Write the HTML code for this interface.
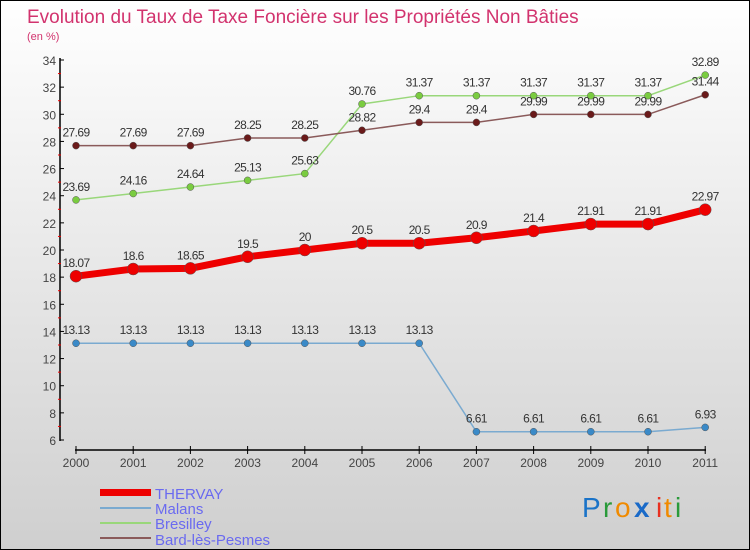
<!DOCTYPE html>
<html><head><meta charset="utf-8"><style>
body{margin:0;}
#c{width:750px;height:550px;position:relative;overflow:hidden;font-family:"Liberation Sans",sans-serif;}
</style></head><body>
<div id="c">
<svg id="s" width="750" height="550" xmlns="http://www.w3.org/2000/svg">
<defs><linearGradient id="bg" x1="0" y1="0" x2="0" y2="1"><stop offset="0" stop-color="#ffffff"/><stop offset="1" stop-color="#cfcfcf"/></linearGradient></defs>
<rect x="0.5" y="0.5" width="749" height="549" fill="url(#bg)" stroke="#000"/>
<text x="27" y="23" font-size="19" fill="#d2336e">Evolution du Taux de Taxe Foncière sur les Propriétés Non Bâties</text>
<text x="27" y="40" font-size="11" fill="#d2336e">(en %)</text>
<g id="axes"></g><g id="series"></g>
<g>
<rect x="100" y="489" width="51" height="7" fill="#ee0000"/>
<rect x="100" y="507" width="51" height="2" fill="#7aaad0"/>
<rect x="100" y="522" width="51" height="2" fill="#99d77a"/>
<rect x="100" y="537" width="51" height="2" fill="#8a5a5a"/>
<text x="155" y="499" font-size="15" fill="#6a6af0">THERVAY</text>
<text x="155" y="514" font-size="15" fill="#6a6af0">Malans</text>
<text x="155" y="529" font-size="15" fill="#6a6af0">Bresilley</text>
<text x="155" y="545" font-size="15" fill="#6a6af0">Bard-lès-Pesmes</text>
</g>
<g font-size="28">
<text x="582" y="517" fill="#1a73c8">P</text><text x="603" y="517" fill="#2a9a3a">r</text><text x="615" y="517" fill="#f08a00">o</text><text x="634" y="517" fill="#1a6ac8" font-weight="bold">x</text><text x="656" y="517" fill="#e83020">i</text><text x="664" y="517" fill="#f08a00">t</text><text x="675" y="517" fill="#2a9a3a">i</text>
</g>
</svg></div>
<script>
const years=[2000,2001,2002,2003,2004,2005,2006,2007,2008,2009,2010,2011];
const thervay=[18.07,18.6,18.65,19.5,20,20.5,20.5,20.9,21.4,21.91,21.91,22.97];
const malans=[13.13,13.13,13.13,13.13,13.13,13.13,13.13,6.61,6.61,6.61,6.61,6.93];
const bresilley=[23.69,24.16,24.64,25.13,25.63,30.76,31.37,31.37,31.37,31.37,31.37,32.89];
const bard=[27.69,27.69,27.69,28.25,28.25,28.82,29.4,29.4,29.99,29.99,29.99,31.44];
const yTicks=[6,8,10,12,14,16,18,20,22,24,26,28,30,32,34];
const NS="http://www.w3.org/2000/svg";
const X=i=>76+i*57.2;
const Y=v=>440-(v-6)*380/28;
function mk(t,a,p){const e=document.createElementNS(NS,t);for(const k in a)e.setAttribute(k,a[k]);p.appendChild(e);return e;}
const ax=document.getElementById('axes');
let l=mk('line',{x1:60,y1:58,x2:60,y2:441,stroke:'#000','stroke-width':1.5},ax);


l=mk('line',{x1:75,y1:450,x2:706,y2:450,stroke:'#000','stroke-width':1.5},ax);


yTicks.forEach(v=>{
 mk('line',{x1:60,y1:Y(v),x2:64,y2:Y(v),stroke:'#000'},ax);
 if(v<34)mk('line',{x1:58,y1:Y(v+1),x2:61,y2:Y(v+1),stroke:'#e00'},ax);
 const t=mk('text',{x:56,y:Y(v)+5,'text-anchor':'end','font-size':12,fill:'#444'},ax);
 t.textContent=v;
 
 
});
years.forEach((y,i)=>{
 mk('line',{x1:X(i),y1:446,x2:X(i),y2:454,stroke:'#000'},ax);
 const t=mk('text',{x:X(i),y:467,'text-anchor':'middle','font-size':12,fill:'#444'},ax);
 t.textContent=y;
 
 
});
const sg=document.getElementById('series');
function series(name,data,color,dot,w,r){
 const g=mk('g',{},sg);
 
 
 const p=mk('polyline',{points:data.map((v,i)=>X(i)+','+Y(v)).join(' '),fill:'none',stroke:color,'stroke-width':w},g);
 
 
 data.forEach((v,i)=>{
  const c=mk('circle',{cx:X(i),cy:Y(v),r:r,fill:dot,stroke:'#555','stroke-width':0.5},g);
  
  
  const t=mk('text',{x:X(i),y:Y(v)-9,'text-anchor':'middle','font-size':12,fill:'#333','letter-spacing':'-0.6'},g);
  t.textContent=v;
  
  
 });
}
series('malans',malans,'#7aaad0','#3a8ac8',1.5,3.5);
series('bresilley',bresilley,'#99d77a','#7acc40',1.5,3.5);
series('bard',bard,'#8a5a5a','#6a1a1a',1.5,3.5);
series('thervay',thervay,'#ee0000','#ee0000',7,6);
</script>
</body></html>
